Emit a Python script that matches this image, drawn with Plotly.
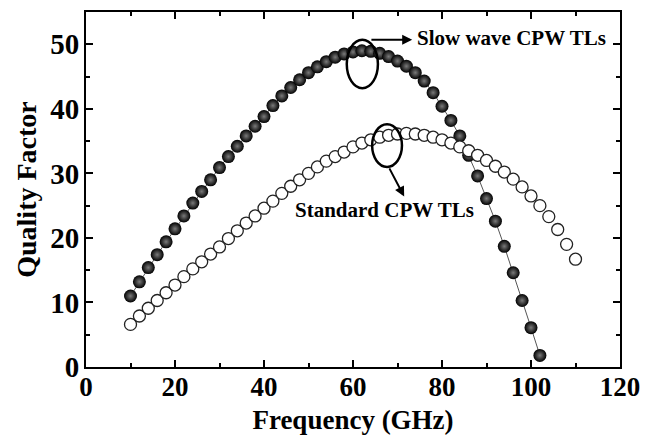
import plotly.graph_objects as go

# Frequency grid (GHz)
freq_slow = [10, 12, 14, 16, 18, 20, 22, 24, 26, 28, 30, 32, 34, 36, 38, 40,
             42, 44, 46, 48, 50, 52, 54, 56, 58, 60, 62, 64, 66, 68, 70, 72,
             74, 76, 78, 80, 82, 84, 86, 88, 90, 92, 94, 96, 98, 100, 102]
q_slow = [11.0, 13.2, 15.4, 17.4, 19.4, 21.4, 23.4, 25.4, 27.2, 29.0, 30.9,
          32.6, 34.2, 35.8, 37.3, 38.8, 40.5, 42.0, 43.3, 44.5, 45.6, 46.5,
          47.3, 48.0, 48.5, 48.8, 49.0, 48.9, 48.6, 48.1, 47.4, 46.6, 45.6,
          44.3, 42.5, 40.4, 38.2, 35.8, 32.8, 29.6, 26.1, 22.6, 18.7, 14.6,
          10.3, 6.1, 1.8]

freq_std = [10, 12, 14, 16, 18, 20, 22, 24, 26, 28, 30, 32, 34, 36, 38, 40,
            42, 44, 46, 48, 50, 52, 54, 56, 58, 60, 62, 64, 66, 68, 70, 72,
            74, 76, 78, 80, 82, 84, 86, 88, 90, 92, 94, 96, 98, 100, 102, 104,
            106, 108, 110]
q_std = [6.6, 7.9, 9.1, 10.3, 11.5, 12.7, 14.0, 15.2, 16.3, 17.5, 18.6, 19.9,
         21.1, 22.3, 23.4, 24.6, 25.7, 26.9, 28.0, 29.0, 30.0, 31.0, 31.9,
         32.6, 33.3, 34.1, 34.7, 35.2, 35.6, 35.9, 36.1, 36.2, 36.1, 35.9,
         35.6, 35.2, 34.7, 34.1, 33.5, 32.8, 32.0, 31.1, 30.2, 29.1, 27.9,
         26.5, 25.0, 23.3, 21.3, 19.0, 16.7]

x_ticks = [0, 20, 40, 60, 80, 100, 120]
y_ticks = [0, 10, 20, 30, 40, 50]

FONT = "Liberation Serif, Times New Roman, serif"

fig = go.Figure()

# slow wave: black "spheres" joined by a thin line
fig.add_trace(go.Scatter(
    x=freq_slow, y=q_slow,
    mode='lines+markers',
    line=dict(color='#555555', width=1),
    marker=dict(size=13, color='black',
                gradient=dict(type='radial', color='#7a7a7a'),
                line=dict(width=0)),
    showlegend=False
))

# standard: open circles
fig.add_trace(go.Scatter(
    x=freq_std, y=q_std,
    mode='markers',
    marker=dict(size=12, color='white', line=dict(color='#222222', width=1.3)),
    showlegend=False
))

# ellipses around the curves
fig.add_shape(type='circle', xref='x', yref='y', x0=58.6, x1=65.6, y0=43.2, y1=50.7,
              line=dict(color='black', width=2.5))
fig.add_shape(type='circle', xref='x', yref='y', x0=64.3, x1=71.0, y0=31.0, y1=37.6,
              line=dict(color='black', width=2.5))

# arrows
fig.add_annotation(x=73.3, y=50.7, ax=63.8, ay=50.7, xref='x', yref='y',
                   axref='x', ayref='y', text='', showarrow=True,
                   arrowhead=2, arrowsize=1, arrowwidth=2, arrowcolor='black')
fig.add_annotation(x=71.5, y=26.4, ax=68.0, ay=31.0, xref='x', yref='y',
                   axref='x', ayref='y', text='', showarrow=True,
                   arrowhead=2, arrowsize=1, arrowwidth=2, arrowcolor='black')

# labels
fig.add_annotation(x=95.7, y=50.9, xref='x', yref='y', text='Slow wave CPW TLs',
                   showarrow=False, font=dict(family=FONT, size=21, color='black', weight='bold'))
fig.add_annotation(x=67.1, y=24.3, xref='x', yref='y', text='Standard CPW TLs',
                   showarrow=False, font=dict(family=FONT, size=21, color='black', weight='bold'))

axis_common = dict(
    showline=True, linecolor='black', linewidth=2, mirror='ticks',
    ticks='inside', ticklen=7, tickwidth=2, tickcolor='black',
    showgrid=False, zeroline=False, automargin=False,
)

fig.update_xaxes(
    range=[0, 120], tickvals=x_ticks, ticklabelstandoff=-5,
    tickfont=dict(family=FONT, size=27, color='black', weight='bold'),
    minor=dict(dtick=10, ticks='inside', ticklen=4, tickwidth=1.5, tickcolor='black'),
    title=dict(text='Frequency (GHz)', standoff=13,
               font=dict(family=FONT, size=27, color='black', weight='bold')),
    **axis_common
)
fig.update_yaxes(
    range=[0, 55], tickvals=y_ticks, ticklabelstandoff=-1,
    tickfont=dict(family=FONT, size=29, color='black', weight='bold'),
    minor=dict(dtick=5, ticks='inside', ticklen=4, tickwidth=1.5, tickcolor='black'),
    title=dict(text='Quality Factor', standoff=5,
               font=dict(family=FONT, size=28, color='black', weight='bold')),
    **axis_common
)

# the page body adds an 8px offset, so the figure is sized to fit inside it
fig.update_layout(
    width=641, height=427,
    margin=dict(l=78, r=29, t=4, b=68),
    plot_bgcolor='white', paper_bgcolor='white',
)

fig.write_html("out.html")
